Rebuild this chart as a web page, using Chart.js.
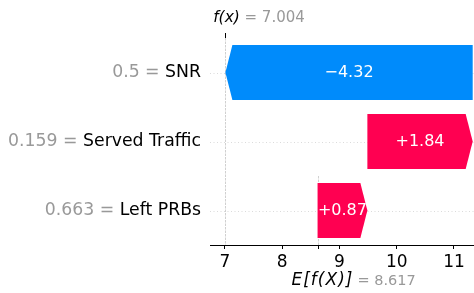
<!DOCTYPE html>
<html>
<head>
<meta charset="utf-8">
<script src="https://cdn.jsdelivr.net/npm/chart.js@4"></script>
<style>
  body { margin: 0; background: #fff; }
</style>
</head>
<body>
<canvas id="chart" width="474" height="293"></canvas>
<script>
const features = ['SNR', 'Served Traffic', 'Left PRBs'];
const featureValues = ['0.5', '0.159', '0.663'];
const shapValues = [-4.32, 1.84, 0.87];
const baseValue = 8.617;
const fxValue = 7.004;
const xTicks = [7, 8, 9, 10, 11];

const RED = '#ff0051';
const BLUE = '#008bfb';
const GREY = '#999999';
const FONT = '"DejaVu Sans"';

// waterfall ranges, stacked up from the base value starting at the bottom row
const ranges = new Array(features.length);
let acc = baseValue;
for (let i = features.length - 1; i >= 0; i--) {
  ranges[i] = [acc, acc + shapValues[i]];
  acc += shapValues[i];
}

function fmt(v) {
  return (v < 0 ? '\u2212' : '+') + Math.abs(v).toFixed(2);
}

const waterfall = {
  id: 'waterfall',
  beforeDatasetsDraw(chart) {
    const { ctx, chartArea: a, scales: { x } } = chart;
    const meta = chart.getDatasetMeta(0);
    ctx.save();
    ctx.lineWidth = 0.7;
    ctx.strokeStyle = '#cccccc';
    ctx.setLineDash([1, 2.5]);
    meta.data.forEach(bar => {
      const y = Math.round(bar.y) + 0.5;
      ctx.beginPath();
      ctx.moveTo(a.left, y);
      ctx.lineTo(a.right, y);
      ctx.stroke();
    });
    ctx.strokeStyle = '#bbbbbb';
    ctx.setLineDash([2.5, 1]);
    const fx = Math.round(x.getPixelForValue(fxValue)) + 0.5;
    ctx.beginPath();
    ctx.moveTo(fx, a.top);
    ctx.lineTo(fx, a.bottom);
    ctx.stroke();
    const bx = Math.round(x.getPixelForValue(baseValue)) + 0.5;
    ctx.beginPath();
    ctx.moveTo(bx, a.bottom - (a.bottom - a.top) / features.length);
    ctx.lineTo(bx, a.bottom);
    ctx.stroke();
    ctx.restore();
  },
  afterDatasetsDraw(chart) {
    const { ctx, chartArea: a, scales: { x } } = chart;
    const meta = chart.getDatasetMeta(0);
    const head = 7;
    ctx.save();
    meta.data.forEach((bar, i) => {
      const [s, e] = ranges[i];
      const x0 = x.getPixelForValue(s);
      const x1 = x.getPixelForValue(e);
      const top = bar.y - bar.height / 2;
      const bot = bar.y + bar.height / 2;
      const dir = x1 > x0 ? 1 : -1;
      const h = Math.min(head, Math.abs(x1 - x0));
      ctx.fillStyle = shapValues[i] < 0 ? BLUE : RED;
      ctx.beginPath();
      ctx.moveTo(x0, top);
      ctx.lineTo(x1 - dir * h, top);
      ctx.lineTo(x1, bar.y);
      ctx.lineTo(x1 - dir * h, bot);
      ctx.lineTo(x0, bot);
      ctx.closePath();
      ctx.fill();

      ctx.fillStyle = '#fff';
      ctx.font = '16px ' + FONT;
      ctx.textAlign = 'center';
      ctx.textBaseline = 'middle';
      ctx.fillText(fmt(shapValues[i]), (x0 + x1) / 2, bar.y);

      // row label: grey value, black feature name
      ctx.font = '17.3px ' + FONT;
      ctx.textAlign = 'right';
      ctx.fillStyle = '#000';
      ctx.fillText(features[i], 201, bar.y);
      const w = ctx.measureText(features[i]).width;
      ctx.fillStyle = GREY;
      ctx.fillText(featureValues[i] + ' = ', 201 - w, bar.y);
    });

    // top tick and f(x) label
    const fx = Math.round(x.getPixelForValue(fxValue)) + 0.5;
    ctx.strokeStyle = '#000';
    ctx.lineWidth = 1;
    ctx.beginPath();
    ctx.moveTo(fx, a.top - 5);
    ctx.lineTo(fx, a.top);
    ctx.stroke();
    ctx.textBaseline = 'middle';
    ctx.textAlign = 'center';
    ctx.fillStyle = '#000';
    ctx.font = 'italic 15.5px ' + FONT;
    ctx.fillText('f(x)', fx + 1, 18);
    ctx.textAlign = 'left';
    ctx.fillStyle = GREY;
    ctx.font = '15px ' + FONT;
    ctx.fillText('= ' + fxValue.toFixed(3), fx + 19, 18);

    // bottom tick and E[f(X)] label
    const bx = Math.round(x.getPixelForValue(baseValue)) + 0.5;
    ctx.beginPath();
    ctx.moveTo(bx, a.bottom);
    ctx.lineTo(bx, a.bottom + 4);
    ctx.stroke();
    ctx.textAlign = 'left';
    ctx.fillStyle = '#000';
    ctx.font = 'italic 17px ' + FONT;
    ctx.letterSpacing = '1px';
    ctx.fillText('E[f(X)]', bx - 27, 281);
    ctx.letterSpacing = '0px';
    ctx.fillStyle = GREY;
    ctx.font = '14.5px ' + FONT;
    ctx.fillText('= ' + baseValue.toFixed(3), bx + 39, 281);
    ctx.restore();
  }
};

new Chart(document.getElementById('chart'), {
  type: 'bar',
  data: {
    labels: features,
    datasets: [{
      data: ranges,
      backgroundColor: 'rgba(0,0,0,0)',
      barPercentage: 0.8,
      categoryPercentage: 1
    }]
  },
  options: {
    indexAxis: 'y',
    responsive: false,
    animation: false,
    devicePixelRatio: 1,
    layout: { padding: { left: 210, top: 38, right: 0, bottom: 0 } },
    plugins: { legend: { display: false }, tooltip: { enabled: false } },
    scales: {
      x: {
        type: 'linear',
        min: 6.738,
        max: 11.35,
        afterBuildTicks: s => { s.ticks = xTicks.map(v => ({ value: v })); },
        afterFit: s => { s.height = 48; },
        grid: { drawOnChartArea: false, tickLength: 4, tickColor: '#000', lineWidth: 1 },
        border: { color: '#000' },
        ticks: { color: '#000', font: { family: FONT, size: 17 }, padding: 3 }
      },
      y: { display: false }
    }
  },
  plugins: [waterfall]
});
</script>
</body>
</html>
